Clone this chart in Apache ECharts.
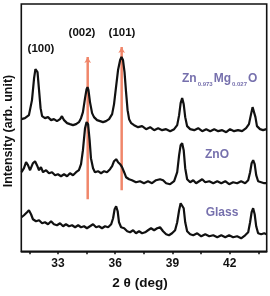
<!DOCTYPE html>
<html>
<head>
<meta charset="utf-8">
<script src="https://cdn.jsdelivr.net/npm/echarts@6/dist/echarts.min.js"></script>
<style>
  html, body { margin: 0; padding: 0; background: #fff; }
  #chart { width: 270px; height: 296px; }
</style>
</head>
<body>
<div id="chart"></div>
<script>
// XRD 图谱数据 (2θ, 强度 arb. unit)
const zmoTheta = [31.09, 31.27, 31.48, 31.64, 31.75, 31.82, 31.88, 31.93, 32.01, 32.09, 32.17, 32.32, 32.48, 32.64, 32.79, 32.95, 33.11, 33.21, 33.32, 33.48, 33.63, 33.79, 33.95, 34.10, 34.21, 34.31, 34.42, 34.50, 34.55, 34.60, 34.68, 34.79, 34.89, 35.05, 35.21, 35.36, 35.52, 35.68, 35.84, 35.94, 36.05, 36.15, 36.26, 36.33, 36.41, 36.49, 36.57, 36.65, 36.73, 36.84, 36.99, 37.20, 37.41, 37.62, 37.83, 38.04, 38.25, 38.46, 38.67, 38.88, 39.09, 39.25, 39.35, 39.43, 39.51, 39.59, 39.67, 39.77, 39.93, 40.14, 40.35, 40.56, 40.77, 40.98, 41.19, 41.40, 41.61, 41.82, 42.02, 42.23, 42.44, 42.65, 42.86, 43.01, 43.12, 43.20, 43.28, 43.35, 43.43, 43.59, 43.75, 43.93];
const zmoIntensity = [132, 133, 136, 151, 173, 182, 183, 179, 161, 143, 135, 133, 134, 131, 132, 130, 132, 135, 131, 128, 127, 126, 127, 129, 133, 139, 153, 162, 164, 161, 149, 138, 134, 131, 130, 129, 130, 132, 137, 147, 165, 181, 191, 194, 191, 179, 159, 141, 132, 128, 126, 124, 125, 122, 124, 121, 123, 121, 122, 120, 122, 126, 136, 148, 153, 147, 134, 125, 122, 121, 123, 120, 122, 120, 122, 120, 121, 119, 122, 120, 121, 120, 123, 127, 137, 144, 143, 134, 125, 122, 121, 122];

const znoTheta = [31.09, 31.22, 31.33, 31.43, 31.54, 31.69, 31.80, 31.90, 32.01, 32.11, 32.22, 32.38, 32.53, 32.69, 32.85, 33.00, 33.16, 33.32, 33.48, 33.63, 33.79, 33.95, 34.10, 34.21, 34.31, 34.42, 34.50, 34.58, 34.66, 34.73, 34.84, 34.94, 35.10, 35.26, 35.42, 35.57, 35.73, 35.84, 35.94, 36.05, 36.15, 36.26, 36.36, 36.47, 36.57, 36.73, 36.88, 37.09, 37.30, 37.51, 37.72, 37.93, 38.14, 38.35, 38.51, 38.67, 38.88, 39.09, 39.25, 39.35, 39.43, 39.51, 39.59, 39.67, 39.77, 39.93, 40.09, 40.24, 40.40, 40.56, 40.72, 40.93, 41.14, 41.35, 41.56, 41.77, 41.97, 42.18, 42.39, 42.60, 42.81, 42.97, 43.07, 43.15, 43.23, 43.31, 43.39, 43.49, 43.65, 43.81, 43.93];
const znoIntensity = [79, 83, 89, 86, 81, 88, 90, 86, 81, 84, 79, 81, 78, 79, 76, 77, 75, 77, 75, 78, 76, 79, 81, 87, 101, 123, 129, 127, 111, 93, 83, 79, 80, 78, 80, 79, 82, 85, 90, 92, 89, 87, 84, 79, 74, 72, 71, 69, 70, 68, 70, 68, 71, 72, 71, 68, 67, 70, 79, 96, 106, 108, 101, 83, 72, 69, 71, 68, 70, 72, 69, 70, 68, 70, 68, 70, 67, 69, 68, 70, 68, 71, 79, 88, 91, 87, 76, 70, 69, 68, 68];

const glassTheta = [31.09, 31.22, 31.38, 31.48, 31.59, 31.69, 31.85, 32.01, 32.17, 32.32, 32.48, 32.64, 32.79, 32.95, 33.11, 33.27, 33.42, 33.58, 33.74, 33.90, 34.06, 34.21, 34.37, 34.52, 34.68, 34.84, 35.00, 35.15, 35.31, 35.47, 35.63, 35.79, 35.89, 35.97, 36.05, 36.13, 36.20, 36.31, 36.47, 36.63, 36.78, 36.94, 37.09, 37.25, 37.41, 37.57, 37.72, 37.88, 38.04, 38.20, 38.35, 38.51, 38.67, 38.82, 38.98, 39.14, 39.25, 39.35, 39.43, 39.51, 39.59, 39.67, 39.77, 39.93, 40.09, 40.30, 40.51, 40.72, 40.93, 41.14, 41.35, 41.56, 41.77, 41.97, 42.18, 42.39, 42.60, 42.81, 42.97, 43.07, 43.15, 43.23, 43.31, 43.39, 43.49, 43.65, 43.81, 43.93];
const glassIntensity = [34, 36, 39, 41, 37, 32, 30, 31, 28, 29, 27, 30, 27, 26, 28, 25, 27, 25, 26, 24, 26, 24, 25, 23, 25, 27, 24, 25, 23, 25, 24, 27, 33, 42, 45, 40, 29, 24, 23, 20, 19, 21, 18, 20, 18, 19, 21, 23, 21, 23, 24, 20, 17, 16, 18, 21, 29, 41, 48, 49, 43, 29, 20, 17, 16, 18, 15, 17, 15, 16, 14, 16, 14, 16, 14, 15, 13, 16, 19, 29, 39, 43, 37, 25, 18, 17, 18, 17];

// 参考峰位 (橙色箭头)
const refPeaks = [34.56, 36.34];
const refTops = [194, 204];
const refBottoms = [52, 61];

// 坐标轴刻度
const tickValues = [31.5, 33, 34.5, 36, 37.5, 39, 40.5, 42, 43.5];
const labelValues = [33, 36, 39, 42];

function zip(xs, ys) {
    return xs.map((x, i) => [x, ys[i]]);
}

const chart = echarts.init(document.getElementById('chart'));

const FONT = 'Liberation Sans, Arial, sans-serif';
const traceStyle = { color: '#111', width: 2.2 };
const arrowColor = '#f0866a';
const labelColor = '#7670ad';

const series = [
    { name: 'ZnMgO', data: zip(zmoTheta, zmoIntensity) },
    { name: 'ZnO', data: zip(znoTheta, znoIntensity) },
    { name: 'Glass', data: zip(glassTheta, glassIntensity) }
].map(s => ({
    name: s.name,
    type: 'line',
    data: s.data,
    showSymbol: false,
    lineStyle: traceStyle,
    z: 3
}));

// 橙色参考线 + 小箭头
refPeaks.forEach((p, i) => {
    series.push({
        type: 'line',
        data: [
            { value: [p, refBottoms[i]], symbol: 'none' },
            { value: [p, refTops[i]], symbol: 'arrow', symbolSize: [5, 6] }
        ],
        lineStyle: { color: arrowColor, width: 2.5 },
        itemStyle: { color: arrowColor },
        z: 2
    });
});

function txt(text, x, y, size, color) {
    return {
        type: 'text', position: [x, y],
        style: { text: text, fill: color, font: 'bold ' + size + 'px ' + FONT, align: 'center', verticalAlign: 'middle' }
    };
}

const option = {
    animation: false,
    grid: {
        left: 21.3, top: 4, right: 3.3, bottom: 44.7,
        show: true, borderColor: '#111', borderWidth: 1.6
    },
    xAxis: {
        type: 'value',
        min: 31.08, max: 43.94,
        axisLine: { show: true, lineStyle: { color: '#111', width: 1.6 } },
        axisTick: {
            show: true, inside: false, length: 3,
            customValues: tickValues,
            lineStyle: { color: '#111', width: 1.5 }
        },
        axisLabel: {
            customValues: labelValues,
            margin: 6,
            color: '#111',
            fontFamily: FONT,
            fontWeight: 'bold',
            fontSize: 12
        },
        splitLine: { show: false }
    },
    yAxis: {
        type: 'value',
        min: 0, max: 247,
        axisLine: { show: false },
        axisTick: { show: false },
        axisLabel: { show: false },
        splitLine: { show: false }
    },
    graphic: [
        Object.assign(txt('Intensity (arb. unit)', 9, 131, 12.5, '#111'), { rotation: Math.PI / 2 }),
        txt('2 θ (deg)', 140, 283, 13.5, '#111'),
        txt('(100)', 41, 49, 11.5, '#111'),
        txt('(002)', 82, 33, 11.5, '#111'),
        txt('(101)', 122, 33, 11.5, '#111'),
        {
            type: 'text', position: [182, 79],
            style: {
                text: '{a|Zn}{s|0.973}{a|Mg}{s|0.027}{a|O}',
                verticalAlign: 'middle',
                rich: {
                    a: { fill: labelColor, font: 'bold 12px ' + FONT, lineHeight: 14 },
                    s: { fill: labelColor, font: 'bold 6px ' + FONT, padding: [10, 1, 0, 1], lineHeight: 14 }
                }
            }
        },
        txt('ZnO', 217, 155, 12, labelColor),
        txt('Glass', 222, 213, 12, labelColor)
    ],
    series: series
};

chart.setOption(option);
</script>
</body>
</html>
